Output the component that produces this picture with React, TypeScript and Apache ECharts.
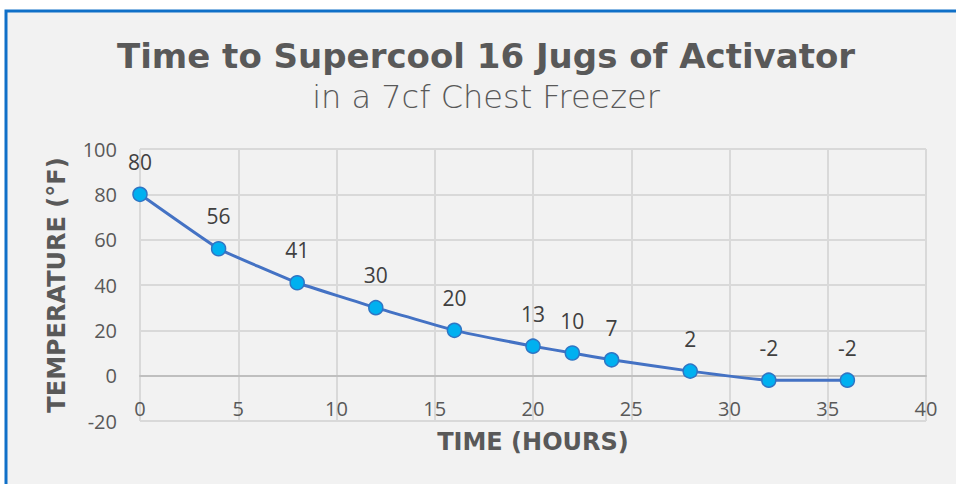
import React, { useEffect, useRef } from "react";
import * as echarts from "echarts";

const hours = [0, 4, 8, 12, 16, 20, 22, 24, 28, 32, 36];
const temps = [80, 56, 41, 30, 20, 13, 10, 7, 2, -2, -2];
const titleText = "Time to Supercool 16 Jugs of Activator";
const subtitleText = "in a 7cf Chest Freezer";
const xName = "TIME (HOURS)";
const yName = "TEMPERATURE (°F)";

export default function App() {
  const ref = useRef<HTMLDivElement>(null);
  useEffect(() => {
    const chart = echarts.init(ref.current!, null, { renderer: "svg" });
    const grid = "#d9d9d9";
    const tick = "#595959";
    chart.setOption({
      animation: false,
      backgroundColor: "#ffffff",
      graphic: [
        {
          type: "rect",
          shape: { x: 6, y: 11, width: 980, height: 500 },
          style: { fill: "#f2f2f2", stroke: "#1070c8", lineWidth: 3 },
          z: -10,
        },
        {
          type: "text",
          x: 486,
          y: 56,
          style: {
            text: titleText,
            fontFamily: "DejaVu Sans",
            fontWeight: "bold",
            fontSize: 34,
            fill: "#595959",
            textAlign: "center",
            textVerticalAlign: "middle",
          },
        },
        {
          type: "text",
          x: 486,
          y: 97,
          style: {
            text: subtitleText,
            fontFamily: "DejaVu Sans",
            fontWeight: 200,
            fontSize: 32,
            fill: "#595959",
            textAlign: "center",
            textVerticalAlign: "middle",
          },
        },
      ],
      grid: { left: 140, right: 30, top: 149, bottom: 63, containLabel: false, outerBoundsMode: "none" },
      xAxis: {
        type: "value",
        min: 0,
        max: 40,
        interval: 5,
        name: xName,
        nameLocation: "middle",
        nameGap: 9,
        nameTextStyle: { fontFamily: "DejaVu Sans", fontWeight: "bold", fontSize: 24, color: tick },
        axisLine: { onZero: true, lineStyle: { color: "#bfbfbf", width: 2 } },
        axisTick: { show: false },
        axisLabel: { margin: -23, fontFamily: "Open Sans", fontSize: 20, color: tick },
        splitLine: { show: true, lineStyle: { color: grid, width: 2 } },
      },
      yAxis: {
        type: "value",
        min: -20,
        max: 100,
        interval: 20,
        name: yName,
        nameLocation: "middle",
        nameGap: 71,
        nameTextStyle: { fontFamily: "DejaVu Sans", fontWeight: "bold", fontSize: 24, color: tick },
        axisLine: { show: false },
        axisTick: { show: false },
        axisLabel: { margin: 23, fontFamily: "Open Sans", fontSize: 20, color: tick },
        splitLine: { show: true, lineStyle: { color: grid, width: 2 } },
      },
      series: [
        {
          type: "line",
          data: hours.map((h, i) => [h, temps[i]]),
          smooth: 0.1,
          symbol: "circle",
          symbolSize: 14,
          lineStyle: { color: "#4472c4", width: 3 },
          itemStyle: { color: "#00b0f0", borderColor: "#2f75c4", borderWidth: 1.5 },
          label: {
            show: true,
            position: "top",
            distance: 14,
            fontFamily: "Open Sans",
            fontSize: 21,
            color: "#404040",
          },
        },
      ],
    });
    return () => chart.dispose();
  }, []);
  return (
    <div
      ref={ref}
      style={{ position: "fixed", left: 0, top: 0, width: 956, height: 484 }}
    />
  );
}
